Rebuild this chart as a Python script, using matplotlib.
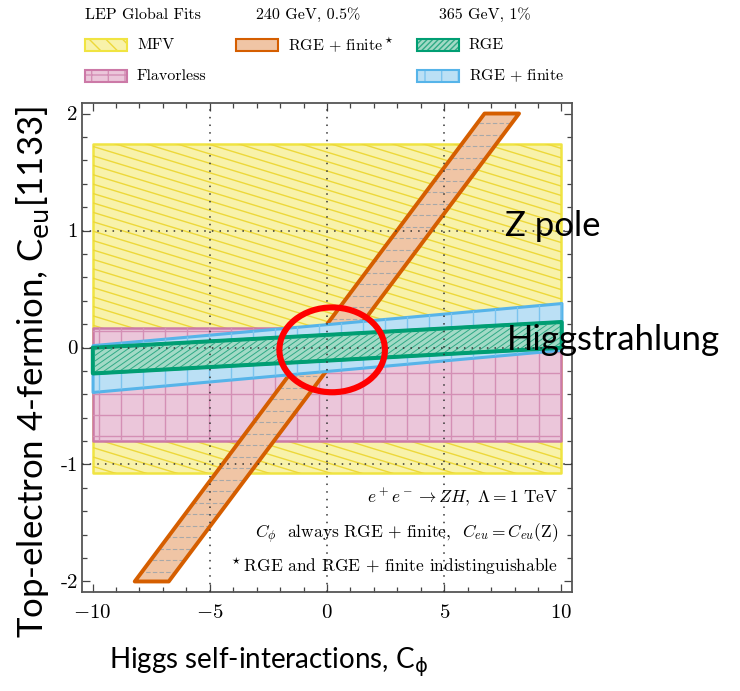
import numpy as np
import matplotlib
matplotlib.use("Agg")
import matplotlib.pyplot as plt
from matplotlib.collections import LineCollection
from matplotlib.patches import Ellipse, Rectangle

plt.rcParams["font.family"] = "serif"
plt.rcParams["font.serif"] = ["cmr10"]
plt.rcParams["mathtext.fontset"] = "cm"
plt.rcParams["axes.formatter.use_mathtext"] = True

# --- fit regions (C_phi on x, C_eu[1133] on y) ---
x_span = [-10.0, 10.0]
mfv_y = [-1.07, 1.74]
flavorless_y = [-0.80, 0.165]
rge_upper = [0.0, 0.22]
rge_lower = [-0.22, 0.0]
rgefin_upper = [0.02, 0.38]
rgefin_lower = [-0.38, -0.02]
star_y = [-2.0, 2.0]
star_left = [-8.2, 6.72]
star_right = [-6.75, 8.19]

x_major = [-10, -5, 0, 5, 10]
y_major = [-2, -1, 0, 1, 2]
x_grid = [-5, 0, 5]
y_grid = [-1, 0, 1]

circle_center = (0.22, -0.02)
circle_size = (4.5, 0.725)

W, H = 740, 691
fig = plt.figure(figsize=(W / 100, H / 100), dpi=100)
ax = fig.add_axes([82 / W, 1 - 592 / H, 490 / W, 489 / H])
ax.set_xlim(-10.45, 10.45)
ax.set_ylim(-2.09, 2.09)
AX_W, AX_H = 490.0, 489.0


def add_hatch(coll, angle, step, color, lw, ls="-", z=2):
    """Draw hatch lines (angle in degrees, step in px) clipped to a filled region."""
    t = np.deg2rad(angle)
    d = np.array([np.cos(t), np.sin(t)])
    n = np.array([-d[1], d[0]])
    diag = np.hypot(AX_W, AX_H) * 1.2
    segs = []
    for o in np.arange(-diag, diag, step):
        p0 = n * o - d * diag
        p1 = n * o + d * diag
        segs.append([(p0[0] / AX_W, p0[1] / AX_H), (p1[0] / AX_W, p1[1] / AX_H)])
    lc = LineCollection(segs, colors=color, linewidths=lw, linestyles=ls,
                        transform=ax.transAxes, zorder=z)
    ax.add_collection(lc)
    lc.set_clip_path(coll.get_paths()[0], ax.transData)


# MFV
mfv = ax.fill_between(x_span, mfv_y[0], mfv_y[1], facecolor="#F8F2AA",
                      edgecolor="#F0E442", linewidth=1.8, zorder=1)
add_hatch(mfv, -17, 9, "#EDD83A", 1.0, z=1.1)

# Flavorless
flv = ax.fill_between(x_span, flavorless_y[0], flavorless_y[1], facecolor="#EBC6DA",
                      edgecolor="#CC79A7", linewidth=1.8, zorder=2)
add_hatch(flv, 90, 22, "#D48FB5", 1.0, z=2.1)
add_hatch(flv, 0, 21, "#D48FB5", 1.0, z=2.1)

# RGE + finite (starred)
star = ax.fill_betweenx(star_y, star_left, star_right, facecolor="#F0C5A5",
                        edgecolor="#D55E00", linewidth=0, zorder=3)
add_hatch(star, 0, 11.5, "#A8A8A8", 0.8, ls=(0, (4, 2)), z=3.1)
ax.fill_betweenx(star_y, star_left, star_right, facecolor="none",
                 edgecolor="#D55E00", linewidth=2.8, zorder=3.2)

# RGE + finite
blue = ax.fill_between(x_span, rgefin_lower, rgefin_upper, facecolor="#BBE0F5",
                       edgecolor="#56B4E9", linewidth=2.2, zorder=4)
add_hatch(blue, 90, 22, "#7CC4EE", 1.0, z=4.1)

# RGE
green = ax.fill_between(x_span, rge_lower, rge_upper, facecolor="#A2DAC6",
                        edgecolor="#009E73", linewidth=2.5, zorder=5)
add_hatch(green, 35, 4.5, "#2FAA85", 0.7, z=5.1)
ax.fill_between(x_span, rge_lower, rge_upper, facecolor="none",
                edgecolor="#009E73", linewidth=2.5, zorder=5.2)

# dotted grid
for gx in x_grid:
    ax.axvline(gx, color="#333333", lw=1.1, ls=(0, (1, 4)), zorder=6)
for gy in y_grid:
    ax.axhline(gy, color="#333333", lw=1.1, ls=(0, (1, 4)), zorder=6)

ax.add_patch(Ellipse(circle_center, circle_size[0], circle_size[1], fill=False,
                     edgecolor="#FF0000", linewidth=4.4, zorder=8, clip_on=False))

# ticks
ax.set_xticks(x_major)
ax.set_xticklabels([f"${v}$" for v in x_major])
ax.set_yticks(y_major)
ax.set_yticklabels([str(v) for v in y_major])
ax.set_xticks(np.arange(-10, 11, 1), minor=True)
ax.set_yticks(np.arange(-2, 2.01, 0.2), minor=True)
ax.tick_params(which="both", direction="in", top=True, right=True,
               color="#444444", width=0.9, labelsize=15)
ax.tick_params(which="major", length=6)
ax.tick_params(which="minor", length=3.5)
ax.tick_params(axis="x", pad=9)
ax.tick_params(axis="y", pad=3)
for s in ax.spines.values():
    s.set_color("#555555")
    s.set_linewidth(1.3)

# notes
ax.text(9.85, -1.28, r"$e^+e^-\rightarrow ZH,\ \Lambda = 1\ \mathrm{TeV}$",
        ha="right", va="center", fontsize=12.5, zorder=9)
ax.text(9.85, -1.59, r"$C_\phi$  always RGE$\,+\,$finite,  $C_{eu} = C_{eu}(\mathrm{Z})$",
        ha="right", va="center", fontsize=12.5, zorder=9)
ax.text(9.85, -1.87, r"$^\star$RGE and RGE$\,+\,$finite indistinguishable",
        ha="right", va="center", fontsize=12.5, zorder=9)

ax.text(7.58, 1.04, "Z pole", family="Lato", fontsize=25, ha="left", va="center",
        clip_on=False, zorder=9)
ax.text(7.66, 0.06, "Higgstrahlung", family="Lato", fontsize=25, ha="left",
        va="center", clip_on=False, zorder=9)

# axis labels
fig.text(268 / W, 1 - 662 / H, r"Higgs self-interactions, C$_{\mathrm{ϕ}}$", family="Lato",
         math_fontfamily="dejavusans", fontsize=20, ha="center", va="center")
fig.text(33 / W, 1 - 372 / H, r"Top-electron 4-fermion, C$_{\mathrm{eu}}$[1133]",
         family="Lato", math_fontfamily="dejavusans", fontsize=25, rotation=90,
         ha="center", va="center")

# legend
fig.text(85 / W, 1 - 15 / H, "LEP Global Fits", fontsize=11.5, va="center")
fig.text(256 / W, 1 - 15 / H, "240 GeV, 0.5%", fontsize=11.5, va="center")
fig.text(439 / W, 1 - 15 / H, "365 GeV, 1%", fontsize=11.5, va="center")

legend_items = [
    (85, 45, "MFV", "#F8F2AA", "#F0E442", "\\\\", "#EDD83A"),
    (236, 45, r"RGE$\,+\,$finite$^\star$", "#F0C5A5", "#D55E00", None, None),
    (417, 45, "RGE", "#A2DAC6", "#009E73", "//////", "#2FAA85"),
    (85, 76, "Flavorless", "#EBC6DA", "#CC79A7", "+", "#D48FB5"),
    (417, 76, r"RGE$\,+\,$finite", "#BBE0F5", "#56B4E9", "|", "#7CC4EE"),
]
for px, py, label, fc, ec, hatch, hc in legend_items:
    x0, y0 = px / W, 1 - (py + 6) / H
    w, h = 42 / W, 12 / H
    fig.add_artist(Rectangle((x0, y0), w, h, facecolor=fc, edgecolor=hc or ec,
                             hatch=hatch, linewidth=0, transform=fig.transFigure))
    fig.add_artist(Rectangle((x0, y0), w, h, facecolor="none", edgecolor=ec,
                             linewidth=1.5, transform=fig.transFigure))
    fig.text((px + 52) / W, 1 - py / H, label, fontsize=11.5, va="center")

fig.savefig("out.png", dpi=100)
